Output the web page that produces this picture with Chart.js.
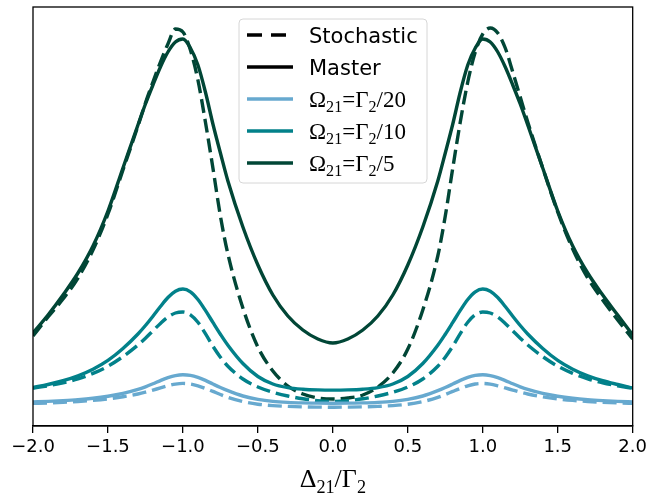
<!DOCTYPE html>
<html>
<head>
<meta charset="UTF-8">
<title>Stochastic vs Master</title>
<script src="https://cdn.jsdelivr.net/npm/chart.js@4"></script>
<style>
  body{margin:0;background:#fff;}
  #wrap{width:651px;height:498px;}
</style>
</head>
<body>
<div id="wrap"><canvas id="chart" width="651" height="498"></canvas></div>
<script>
// detuning grid (Delta21/Gamma2), denser around the peaks
const xs=[-2.0,-1.9,-1.8,-1.7,-1.6,-1.5,-1.4,-1.3,-1.25,-1.2,-1.15,-1.1,-1.05,-1.0,-0.95,-0.9,-0.85,-0.8,-0.75,-0.7,-0.6,-0.5,-0.4,-0.3,-0.2,-0.1,0.0,
          0.1,0.2,0.3,0.4,0.5,0.6,0.7,0.75,0.8,0.85,0.9,0.95,1.0,1.05,1.1,1.15,1.2,1.25,1.3,1.4,1.5,1.6,1.7,1.8,1.9,2.0];

// Omega21 = Gamma2/5
const master5=[93,111,131,153,180,215,258,301,322,341,359,374,384,387,378,361,334,302,273,245,199,161,131,110,96,87,83,
               87,96,110,131,161,199,245,273,302,334,361,378,387,384,374,359,341,322,301,258,215,180,153,131,111,91];
const stoch5=[90,109,127,148,176,212,256,300,323,344,364,382,397,394,376,346,304,258,210,172,118,79,55,40,32,28,27,
              28,31,39,53,77,116,170,210,258,304,344,374,392,398,393,378,354,329,304,258,214,177,148,126,106,87];
// Omega21 = Gamma2/10
const master10=[38.5,41.5,45.3,50.2,56.8,65.6,77.5,92.0,100.5,109.8,119.5,128.5,134.8,137.0,134.2,126.5,115.6,103.6,91.8,80.8,62.5,49.5,42.0,38.4,36.8,36.1,35.9,
                36.1,36.8,38.4,42.0,49.5,62.5,80.8,91.8,103.6,115.6,126.5,134.2,137.0,134.8,128.5,119.5,109.8,100.5,92.0,77.5,65.6,56.8,50.2,45.3,41.5,38.0];
const stoch10=[37.8,40.2,43.2,47.2,52.6,59.8,69.4,81.0,87.8,95.2,102.6,109.0,113.0,114.0,111.2,103.8,92.4,79.8,68.8,59.8,47.0,39.0,33.8,30.0,27.2,25.4,24.6,
               25.4,27.2,30.0,33.8,39.0,47.0,59.8,68.8,79.8,92.4,103.8,111.2,114.0,113.0,109.0,102.6,95.2,87.8,81.0,69.4,59.8,52.6,47.2,43.2,40.2,37.6];
// Omega21 = Gamma2/20
const master20=[24.0,24.6,25.4,26.4,27.8,29.8,32.6,36.6,39.2,42.2,45.4,48.3,50.4,51.2,50.6,48.6,45.6,42.0,38.5,35.3,30.0,26.6,24.6,23.6,23.1,22.9,22.8,
                22.9,23.1,23.6,24.6,26.6,30.0,35.3,38.5,42.0,45.6,48.6,50.6,51.2,50.4,48.3,45.4,42.2,39.2,36.6,32.6,29.8,27.8,26.4,25.4,24.6,24.0];
const stoch20=[22.6,23.1,23.7,24.5,25.6,27.1,29.2,32.0,33.8,35.9,38.1,40.2,41.9,42.6,42.0,40.2,37.6,34.6,31.5,28.6,24.4,21.8,20.4,19.6,19.1,18.9,18.8,
               18.9,19.1,19.6,20.4,21.8,24.4,28.6,31.5,34.6,37.6,40.2,42.0,42.6,41.9,40.2,38.1,35.9,33.8,32.0,29.2,27.1,25.6,24.5,23.7,23.1,22.6];

const xTicks=[-2.0,-1.5,-1.0,-0.5,0.0,0.5,1.0,1.5,2.0];

const cLight="#67a9cf", cTeal="#02818a", cDark="#014636";
const DASH=[14,6];
const LW=3.4;

function pts(arr){ return xs.map((x,i)=>({x:x,y:arr[i]})); }
function ds(arr,color,dashed){
  return {data:pts(arr),borderColor:color,borderWidth:LW,borderDash:dashed?DASH:[],
          pointRadius:0,fill:false,cubicInterpolationMode:'monotone',borderCapStyle:'butt'};
}

// draw text with subscript parts: [["Ω",0],["21",1],...]
function richWidth(ctx,parts,size,fam){
  let w=0;
  for(const [t,sub] of parts){
    ctx.font=(sub?size*0.7:size)+"px "+fam;
    w+=ctx.measureText(t).width;
  }
  return w;
}
function drawRich(ctx,parts,x,y,size,fam){
  for(const [t,sub] of parts){
    ctx.font=(sub?size*0.7:size)+"px "+fam;
    ctx.fillText(t,x,y+(sub?size*0.22:0));
    x+=ctx.measureText(t).width;
  }
}

const legendRows=[
  {color:"#000",dash:true,parts:[["Stochastic",0]],sans:true},
  {color:"#000",dash:false,parts:[["Master",0]],sans:true},
  {color:cLight,dash:false,parts:[["Ω",0],["21",1],["=Γ",0],["2",1],["/20",0]]},
  {color:cTeal,dash:false,parts:[["Ω",0],["21",1],["=Γ",0],["2",1],["/10",0]]},
  {color:cDark,dash:false,parts:[["Ω",0],["21",1],["=Γ",0],["2",1],["/5",0]]}
];

const decor={
  id:'decor',
  afterDraw(chart){
    const ctx=chart.ctx, a=chart.chartArea;
    ctx.save();
    // frame
    ctx.strokeStyle="#000";
    ctx.lineWidth=1.3;
    ctx.strokeRect(a.left,a.top,a.right-a.left,a.bottom-a.top);

    // axis title
    const tparts=[["Δ",0],["21",1],["/Γ",0],["2",1]];
    const fam="'Liberation Serif', serif";
    const tw=richWidth(ctx,tparts,26,fam);
    ctx.fillStyle="#000";
    ctx.textBaseline="alphabetic";
    drawRich(ctx,tparts,(a.left+a.right)/2-tw/2,487,26,fam);

    // legend box
    const bx=239, by=19, bw=188, bh=164, r=4;
    ctx.beginPath();
    ctx.moveTo(bx+r,by);
    ctx.arcTo(bx+bw,by,bx+bw,by+bh,r);
    ctx.arcTo(bx+bw,by+bh,bx,by+bh,r);
    ctx.arcTo(bx,by+bh,bx,by,r);
    ctx.arcTo(bx,by,bx+bw,by,r);
    ctx.closePath();
    ctx.fillStyle="rgba(255,255,255,0.8)";
    ctx.fill();
    ctx.strokeStyle="#d6d6d6";
    ctx.lineWidth=1;
    ctx.stroke();

    legendRows.forEach((row,i)=>{
      const cy=35+i*32;
      ctx.beginPath();
      ctx.setLineDash(row.dash?[15,9]:[]);
      ctx.strokeStyle=row.color;
      ctx.lineWidth=LW;
      ctx.lineCap="butt";
      ctx.moveTo(247,cy);
      ctx.lineTo(293,cy);
      ctx.stroke();
      ctx.setLineDash([]);
      ctx.fillStyle="#000";
      if(row.sans) drawRich(ctx,row.parts,309,cy+8,21,"'DejaVu Sans', sans-serif");
      else drawRich(ctx,row.parts,309,cy+8,23,fam);
    });
    ctx.restore();
  }
};

new Chart(document.getElementById("chart"),{
  type:'line',
  data:{datasets:[
    ds(stoch20,cLight,true), ds(master20,cLight,false),
    ds(stoch10,cTeal,true), ds(master10,cTeal,false),
    ds(stoch5,cDark,true), ds(master5,cDark,false)
  ]},
  options:{
    responsive:false,
    animation:false,
    devicePixelRatio:1,
    layout:{padding:{left:33,right:17,top:7,bottom:0}},
    plugins:{legend:{display:false},tooltip:{enabled:false}},
    scales:{
      x:{
        type:'linear',min:-2,max:2,
        afterBuildTicks:s=>{s.ticks=xTicks.map(v=>({value:v}));},
        afterFit:s=>{s.height=72;},
        ticks:{
          color:"#000",padding:4,maxRotation:0,autoSkip:false,
          font:{family:"'DejaVu Sans', sans-serif",size:18},
          callback:v=>Number(v).toFixed(1).replace("-","−")
        },
        grid:{drawOnChartArea:false,tickLength:7,color:"#000",lineWidth:1.3},
        border:{color:"#000",width:1.3}
      },
      y:{display:false,min:0,max:419}
    }
  },
  plugins:[decor]
});
</script>
</body>
</html>
